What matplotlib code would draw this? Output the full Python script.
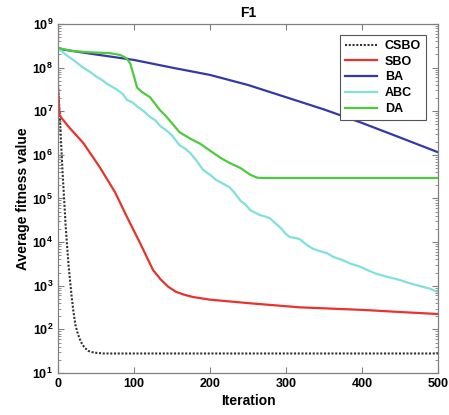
import matplotlib
matplotlib.use("Agg")
import matplotlib.pyplot as plt
from matplotlib.ticker import LogLocator, FixedLocator, NullFormatter

plt.rcParams['font.family'] = ['Liberation Sans', 'DejaVu Sans']
plt.rcParams['font.weight'] = 'bold'
plt.rcParams['mathtext.fontset'] = 'custom'
plt.rcParams['mathtext.rm'] = 'Liberation Sans:bold'
plt.rcParams['mathtext.bf'] = 'Liberation Sans:bold'
plt.rcParams['mathtext.default'] = 'bf'

title = "F1"
xlabel = "Iteration"
ylabel = "Average fitness value"
series_names = ["CSBO", "SBO", "BA", "ABC", "DA"]

csbo_it = [0, 2, 4, 6, 8, 10, 12, 14, 16, 18, 20, 23, 26, 30, 35, 40, 45, 50, 60, 500]
csbo_val = [4e7, 1e7, 2e6, 4e5, 1e5, 2.5e4, 8e3, 2.8e3, 1.25e3, 560, 280, 125, 80, 52, 38, 32, 30, 29, 28, 28]

sbo_it = [0, 2, 15, 33, 55, 75, 91, 108, 125, 135, 145, 155, 165, 178, 200, 250, 318, 400, 450, 500]
sbo_val = [3.5e7, 8e6, 4.2e6, 1.9e6, 5.2e5, 1.4e5, 3.7e4, 9.5e3, 2.3e3, 1.4e3, 950, 730, 630, 550,
           480, 400, 320, 280, 250, 225]

ba_it = [0, 50, 100, 150, 200, 250, 300, 350, 400, 450, 500]
ba_val = [2.7e8, 2e8, 1.5e8, 1e8, 6.8e7, 4e7, 2.1e7, 1.1e7, 5.4e6, 2.5e6, 1.15e6]

abc_it = [0, 10, 20, 33, 42, 50, 58, 65, 78, 85, 91, 98, 105, 113, 121, 128, 135, 143, 150, 160,
          167, 174, 182, 191, 200, 209, 217, 226, 233, 240, 247, 253, 259, 265, 272, 279, 285, 292,
          299, 305, 312, 318, 326, 335, 345, 354, 362, 374, 385, 396, 407, 418, 430, 440, 450, 462,
          475, 490, 500]
abc_val = [2.8e8, 2e8, 1.5e8, 1e8, 8e7, 6.3e7, 5.2e7, 4.2e7, 3.1e7, 2.5e7, 1.8e7, 1.6e7, 1.25e7,
           1e7, 7.4e6, 6.2e6, 4.5e6, 3.6e6, 2.8e6, 1.66e6, 1.4e6, 1.1e6, 7.5e5, 4.5e5, 3.5e5, 2.6e5,
           2.2e5, 1.8e5, 1.3e5, 8.9e4, 7.2e4, 5.4e4, 4.8e4, 4.2e4, 3.9e4, 3.5e4, 2.8e4, 2.2e4,
           1.6e4, 1.3e4, 1.25e4, 1.17e4, 9e3, 7.1e3, 6.2e3, 5.6e3, 4.6e3, 3.9e3, 3.2e3, 2.8e3,
           2.3e3, 1.9e3, 1.66e3, 1.5e3, 1.35e3, 1.15e3, 1e3, 850, 710]

da_it = [0, 20, 40, 68, 82, 90, 95, 100, 104, 110, 121, 134, 143, 160, 175, 187, 200, 215, 226,
         240, 253, 262, 270, 500]
da_val = [2.8e8, 2.4e8, 2.25e8, 2.15e8, 1.95e8, 1.65e8, 1.25e8, 6.3e7, 3.5e7, 2.8e7, 2.1e7, 1.07e7,
          7.4e6, 3.3e6, 2.3e6, 1.8e6, 1.25e6, 8.3e5, 6.5e5, 5e5, 3.5e5, 3e5, 2.95e5, 2.95e5]

xticks = [0, 100, 200, 300, 400, 500]

fig = plt.figure(figsize=(4.49, 4.15), dpi=100)
ax = fig.add_axes([58/449, 1-373/415, (438-58)/449, (373-24)/415])

lw = 1.6
ax.plot(csbo_it, csbo_val, color='#333333', linestyle=(0, (1, 0.8)), lw=1.5, label=series_names[0])
ax.plot(sbo_it, sbo_val, color='#e8322c', lw=lw, label=series_names[1])
ax.plot(ba_it, ba_val, color='#3538a6', lw=lw, label=series_names[2])
ax.plot(abc_it, abc_val, color='#80e0dc', lw=lw, label=series_names[3])
ax.plot(da_it, da_val, color='#4ccb3c', lw=lw, label=series_names[4])

ax.set_yscale('log')
ax.set_xlim(0, 500)
ax.set_ylim(1e1, 1e9)
ax.xaxis.set_major_locator(FixedLocator(xticks))
ax.yaxis.set_major_locator(LogLocator(base=10, numticks=20))
ax.yaxis.set_minor_locator(LogLocator(base=10, subs=range(2, 10), numticks=20))
ax.yaxis.set_minor_formatter(NullFormatter())

for s in ax.spines.values():
    s.set_color('#808080')
    s.set_linewidth(0.9)
ax.tick_params(which='both', direction='in', top=True, right=True, colors='#808080',
               labelcolor='black', labelsize=9)
ax.tick_params(which='major', length=4)
ax.tick_params(which='minor', length=2)
for lab in ax.get_xticklabels() + ax.get_yticklabels():
    lab.set_fontweight('bold')

ax.set_title(title, fontsize=10, fontweight='bold', pad=5)
ax.set_xlabel(xlabel, fontsize=10, fontweight='bold', labelpad=3)
ax.set_ylabel(ylabel, fontsize=10, fontweight='bold', labelpad=2)

leg = ax.legend(loc='upper right', bbox_to_anchor=(426/449, 1-35/415), bbox_transform=fig.transFigure,
                borderaxespad=0, fancybox=False, framealpha=1, edgecolor='#555555',
                prop={'weight': 'bold', 'size': 9}, handlelength=2.6, labelspacing=0.3,
                borderpad=0.4, handletextpad=0.6)
leg.get_frame().set_linewidth(0.8)

fig.savefig('out.png', dpi=100)
